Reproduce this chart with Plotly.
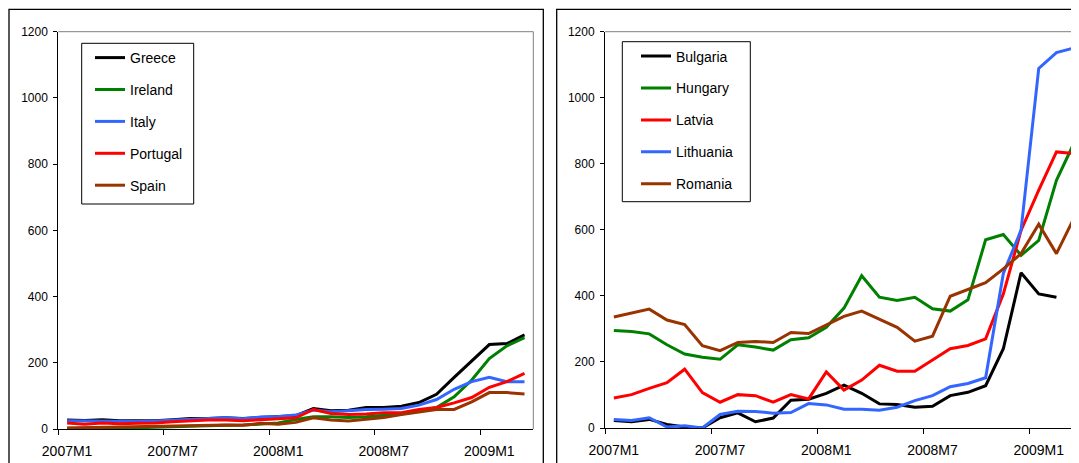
import plotly.graph_objects as go

months = ["2007M1","2007M2","2007M3","2007M4","2007M5","2007M6","2007M7","2007M8","2007M9",
          "2007M10","2007M11","2007M12","2008M1","2008M2","2008M3","2008M4","2008M5","2008M6",
          "2008M7","2008M8","2008M9","2008M10","2008M11","2008M12","2009M1","2009M2","2009M3"]
tick_labels = ["2007M1", "2007M7", "2008M1", "2008M7", "2009M1"]
y_ticks = [0, 200, 400, 600, 800, 1000, 1200]

# Left panel (euro area)
greece   = [27,26,28,25,25,25,28,32,32,34,32,35,38,40,62,55,57,65,65,69,80,105,156,206,255,258,284]
ireland  = [2,2,3,3,4,5,7,8,10,11,12,15,18,29,37,37,35,37,41,45,54,65,97,148,213,251,276]
italy    = [25,24,24,22,23,24,27,30,31,34,31,36,38,42,57,52,55,59,60,62,72,89,120,143,156,143,143]
portugal = [18,14,18,16,17,18,22,25,27,27,25,28,30,34,59,47,44,45,49,49,59,65,79,95,126,143,168]
spain    = [3,4,6,7,8,9,11,12,13,12,11,17,14,20,34,27,24,29,35,44,52,59,59,82,110,110,106]

# Right panel (new member states)
bulgaria  = [23,19,26,11,3,0,31,46,19,30,84,87,105,130,105,73,71,63,66,98,108,128,240,470,406,396,None]
hungary   = [295,292,285,252,224,214,208,252,245,236,267,273,305,363,461,396,386,396,361,354,388,570,586,523,568,750,864]
latvia    = [91,101,120,137,178,107,78,101,98,78,101,88,170,115,145,190,172,172,206,240,250,270,406,598,720,836,831]
lithuania = [26,23,31,3,7,0,41,51,50,45,47,74,70,57,57,54,63,83,98,125,135,152,468,599,1089,1137,1151]
romania   = [336,348,360,327,313,249,234,259,262,259,289,286,313,338,354,329,305,263,278,399,419,440,482,528,617,528,637]

left_series = [("Greece", greece, "#000000"), ("Ireland", ireland, "#008000"),
               ("Italy", italy, "#3366FF"), ("Portugal", portugal, "#FF0000"),
               ("Spain", spain, "#993300")]
right_series = [("Bulgaria", bulgaria, "#000000"), ("Hungary", hungary, "#008000"),
                ("Latvia", latvia, "#FF0000"), ("Lithuania", lithuania, "#3366FF"),
                ("Romania", romania, "#993300")]

# page body has an 8px margin; size the figure so it reaches the window edge
OFF = 8
W, H = 1079 - OFF, 463 - OFF
FONT = "Liberation Sans, Arial, sans-serif"

def fx(p):
    return (p - OFF) / W

def fy(p):
    return 1 - (p - OFF) / H

xidx = list(range(len(months)))
tick_pos = [months.index(t) for t in tick_labels]
bound_pos = [p - 0.5 for p in tick_pos]

fig = go.Figure()
for name, vals, col in left_series:
    fig.add_trace(go.Scatter(x=xidx, y=vals, name=name, mode="lines", text=months,
                             line=dict(color=col, width=3), xaxis="x", yaxis="y",
                             legend="legend", legendgroup=name))
for name, vals, col in right_series:
    fig.add_trace(go.Scatter(x=xidx, y=vals, name=name, mode="lines", text=months,
                             line=dict(color=col, width=3), xaxis="x2", yaxis="y2",
                             legend="legend2", legendgroup=name, connectgaps=False))

xcommon = dict(tickmode="array", tickvals=tick_pos, ticktext=tick_labels,
               ticks="outside", ticklen=0, tickcolor="#000",
               minor=dict(tickmode="array", tickvals=bound_pos, ticks="outside",
                          ticklen=5, tickcolor="#000", showgrid=False),
               showline=True, linecolor="#000", linewidth=1, showgrid=False, zeroline=False,
               tickangle=0, automargin=False,
               tickfont=dict(family=FONT, size=14, color="#000"),
               ticklabelstandoff=9)
ycommon = dict(range=[0, 1200], tickmode="array", tickvals=y_ticks,
               ticks="outside", ticklen=4, tickcolor="#000", automargin=False,
               showline=True, linecolor="#000", linewidth=1, showgrid=False, zeroline=False,
               tickfont=dict(family=FONT, size=12, color="#000"), ticklabelstandoff=3)

legcommon = dict(borderwidth=0, bgcolor="rgba(0,0,0,0)",
                 font=dict(family=FONT, size=14, color="#000"),
                 xanchor="left", yanchor="top", tracegroupgap=10.7, itemwidth=30)

fig.update_layout(
    width=W, height=H, margin=dict(l=0, r=0, t=0, b=0, autoexpand=False),
    paper_bgcolor="#fff", plot_bgcolor="#fff",
    xaxis=dict(domain=[fx(58.3), fx(533.3)], range=[-0.5, 26.5], anchor="y", **xcommon),
    yaxis=dict(domain=[fy(429), fy(31.7)], anchor="x", **ycommon),
    xaxis2=dict(domain=[fx(605), 1.0], range=[-0.5, 26.5 - 4 / 17.7], anchor="y2", **xcommon),
    yaxis2=dict(domain=[fy(428), fy(31.7)], anchor="x2", **ycommon),
    legend=dict(x=fx(90), y=fy(42), **legcommon),
    legend2=dict(x=fx(636), y=fy(40.5), **legcommon),
    showlegend=True,
)

shapes = []
# Plot-area borders (grey top/right)
shapes.append(dict(type="line", xref="paper", yref="paper", x0=fx(58.3), x1=fx(533.3),
                   y0=fy(31.7), y1=fy(31.7), line=dict(color="#808080", width=1)))
shapes.append(dict(type="line", xref="paper", yref="paper", x0=fx(533.3), x1=fx(533.3),
                   y0=fy(429), y1=fy(31.7), line=dict(color="#808080", width=1)))
shapes.append(dict(type="line", xref="paper", yref="paper", x0=fx(605), x1=1.0,
                   y0=fy(31.7), y1=fy(31.7), line=dict(color="#808080", width=1)))
# Outer chart frames
shapes.append(dict(type="rect", xref="paper", yref="paper", x0=fx(9), x1=fx(543.3),
                   y0=-0.2, y1=fy(9.3), line=dict(color="#000", width=1.3), layer="below"))
shapes.append(dict(type="rect", xref="paper", yref="paper", x0=fx(556.7), x1=1.2,
                   y0=-0.2, y1=fy(9.3), line=dict(color="#000", width=1.3), layer="below"))
# Legend boxes
shapes.append(dict(type="rect", xref="paper", yref="paper", x0=fx(81.7), x1=fx(193.7),
                   y0=fy(204), y1=fy(43.3), line=dict(color="#000", width=1), fillcolor="#fff",
                   layer="below"))
shapes.append(dict(type="rect", xref="paper", yref="paper", x0=fx(622.3), x1=fx(750.3),
                   y0=fy(201.7), y1=fy(41.7), line=dict(color="#000", width=1), fillcolor="#fff",
                   layer="below"))
fig.update_layout(shapes=shapes)

fig.write_html("out.html")
